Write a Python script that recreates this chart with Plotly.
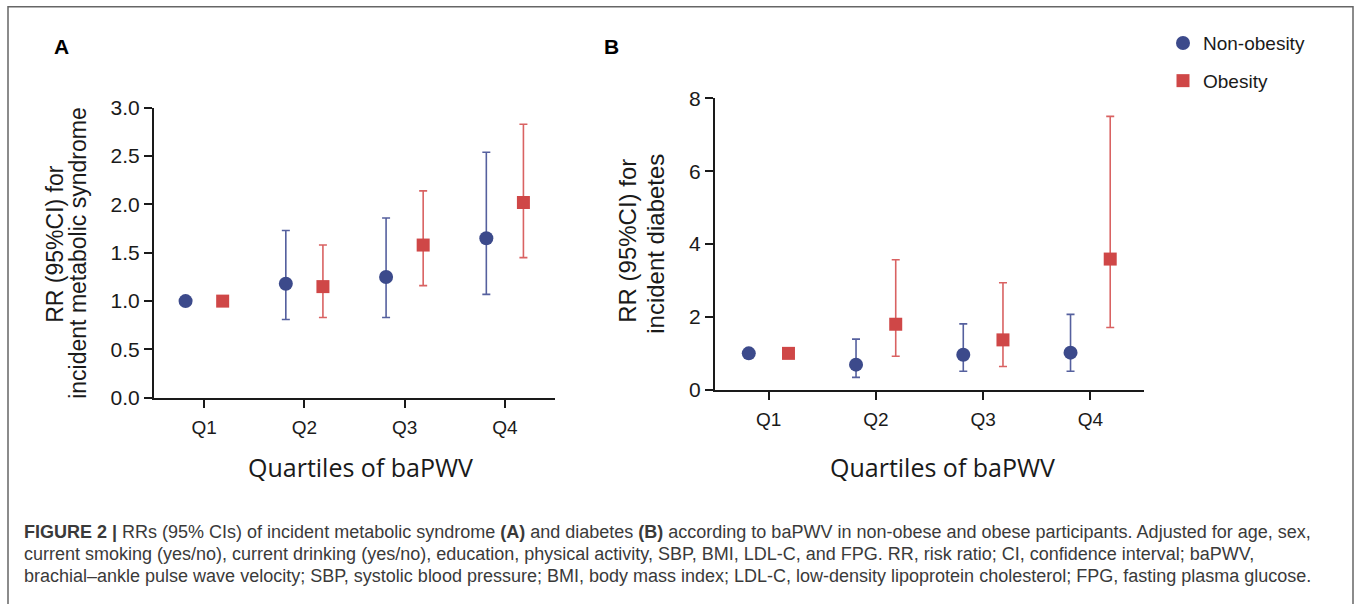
import plotly.graph_objects as go

# ---------------- data ----------------
categories = ["Q1", "Q2", "Q3", "Q4"]
series_names = ["Non-obesity", "Obesity"]

# Panel A: RR (95%CI) for incident metabolic syndrome
a_non_rr = [1.00, 1.18, 1.25, 1.65]
a_non_lo = [1.00, 0.81, 0.83, 1.07]
a_non_hi = [1.00, 1.73, 1.86, 2.54]
a_ob_rr = [1.00, 1.15, 1.58, 2.02]
a_ob_lo = [1.00, 0.83, 1.16, 1.45]
a_ob_hi = [1.00, 1.58, 2.14, 2.83]

# Panel B: RR (95%CI) for incident diabetes
b_non_rr = [1.00, 0.69, 0.96, 1.02]
b_non_lo = [1.00, 0.34, 0.51, 0.51]
b_non_hi = [1.00, 1.39, 1.81, 2.07]
b_ob_rr = [1.00, 1.80, 1.37, 3.59]
b_ob_lo = [1.00, 0.92, 0.64, 1.71]
b_ob_hi = [1.00, 3.57, 2.94, 7.51]

a_yticks = [0.0, 0.5, 1.0, 1.5, 2.0, 2.5, 3.0]
b_yticks = [0, 2, 4, 6, 8]

caption_lines = [
    "<b>FIGURE 2 |</b> RRs (95% CIs) of incident metabolic syndrome <b>(A)</b> and diabetes <b>(B)</b> "
    "according to baPWV in non-obese and obese participants. Adjusted for age, sex,",
    "current smoking (yes/no), current drinking (yes/no), education, physical activity, SBP, BMI, "
    "LDL-C, and FPG. RR, risk ratio; CI, confidence interval; baPWV,",
    "brachial–ankle pulse wave velocity; SBP, systolic blood pressure; BMI, body mass index; "
    "LDL-C, low-density lipoprotein cholesterol; FPG, fasting plasma glucose.",
]

# ---------------- style ----------------
W, H = 1357, 604
BLUE = "#3C4A8B"
BLUE_BAR = "#55609E"
RED = "#CF4747"
RED_BAR = "#D96262"
AXC = "#1a1a1a"
ARIAL = "Arial, Liberation Sans, sans-serif"
OFFSET = 0.185


def px(x):
    return x / W


def py(y):
    # vertical pixel (top-down) -> paper fraction, with a small correction for the
    # vertical scaling observed in the captured page
    yr = (y - 11.2) / 0.962
    return 1 - yr / H


idx = list(range(len(categories)))

fig = go.Figure()


def add_series(rr, lo, hi, shift, color, barcolor, symbol, size, xa, ya, name, show):
    fig.add_trace(go.Scatter(
        x=[i + shift for i in idx], y=rr,
        mode="markers", name=name, legendgroup=name, showlegend=show,
        marker=dict(color=color, symbol=symbol, size=size, line=dict(width=0)),
        error_y=dict(type="data", symmetric=False,
                     array=[h - r for h, r in zip(hi, rr)],
                     arrayminus=[r - l for r, l in zip(rr, lo)],
                     color=barcolor, thickness=1.6, width=4),
        xaxis=xa, yaxis=ya, cliponaxis=False,
    ))


add_series(a_non_rr, a_non_lo, a_non_hi, -OFFSET, BLUE, BLUE_BAR, "circle", 14, "x", "y", series_names[0], False)
add_series(a_ob_rr, a_ob_lo, a_ob_hi, OFFSET, RED, RED_BAR, "square", 13, "x", "y", series_names[1], False)
add_series(b_non_rr, b_non_lo, b_non_hi, -OFFSET, BLUE, BLUE_BAR, "circle", 14, "x2", "y2", series_names[0], True)
add_series(b_ob_rr, b_ob_lo, b_ob_hi, OFFSET, RED, RED_BAR, "square", 13, "x2", "y2", series_names[1], True)

xcommon = dict(range=[-0.5, 3.5], tickvals=idx, ticktext=categories, showgrid=False, zeroline=False,
               showline=True, linecolor=AXC, linewidth=2, ticks="outside", ticklen=8, tickwidth=2,
               tickcolor=AXC, tickfont=dict(family=ARIAL, size=19, color=AXC), fixedrange=True,
               ticklabelstandoff=3)
ycommon = dict(showgrid=False, zeroline=False, showline=True, linecolor=AXC, linewidth=2,
               ticks="outside", ticklen=8, tickwidth=2, tickcolor=AXC,
               tickfont=dict(family=ARIAL, size=21, color=AXC), fixedrange=True)

annotations = [
    dict(text="<b>A</b>", x=px(61), y=py(46), font=dict(family=ARIAL, size=21, color="#000")),
    dict(text="<b>B</b>", x=px(611), y=py(46), font=dict(family=ARIAL, size=21, color="#000")),
    dict(text="RR (95%CI) for", x=px(55), y=py(243), textangle=-90, font=dict(family=ARIAL, size=23, color=AXC)),
    dict(text="incident metabolic syndrome", x=px(78), y=py(253), textangle=-90, font=dict(family=ARIAL, size=23, color=AXC)),
    dict(text="RR (95%CI) for", x=px(628), y=py(240), textangle=-90, font=dict(family=ARIAL, size=24, color=AXC)),
    dict(text="incident diabetes", x=px(656), y=py(243), textangle=-90, font=dict(family=ARIAL, size=24, color=AXC)),
    dict(text="Quartiles of baPWV", x=px(360), y=py(466), font=dict(family="Open Sans, sans-serif", size=25, color=AXC)),
    dict(text="Quartiles of baPWV", x=px(942), y=py(466), font=dict(family="Open Sans, sans-serif", size=25, color=AXC)),
]
for i, (line, yc) in enumerate(zip(caption_lines, [531, 553, 575])):
    annotations.append(dict(text=line, x=px(22), y=py(yc), xanchor="left",
                            font=dict(family=ARIAL, size=18, color="#3a3a3a")))
for a in annotations:
    a.setdefault("xref", "paper")
    a.setdefault("yref", "paper")
    a.setdefault("showarrow", False)
    a.setdefault("xanchor", "center")
    a.setdefault("yanchor", "middle")

ytop = py(6)
ybot = -0.05
frame = dict(type="path", xref="paper", yref="paper", layer="below",
             path=f"M {px(8)},{ybot} L {px(8)},{ytop} L {px(1353)},{ytop} L {px(1353)},{ybot}",
             line=dict(color="#666", width=1.5))

fig.update_layout(
    width=W, height=H, autosize=False,
    margin=dict(l=0, r=0, t=0, b=0),
    paper_bgcolor="white", plot_bgcolor="white",
    xaxis=dict(domain=[px(154), px(555)], anchor="y", **xcommon),
    yaxis=dict(domain=[py(397), py(107)], anchor="x", range=[0, 3], tickvals=a_yticks,
               ticktext=[f"{v:.1f}" for v in a_yticks], **ycommon),
    xaxis2=dict(domain=[px(715), px(1144)], anchor="y2", **xcommon),
    yaxis2=dict(domain=[py(389), py(97.7)], anchor="x2", range=[0, 8], tickvals=b_yticks, **ycommon),
    legend=dict(x=px(1163), y=py(23.3), xanchor="left", yanchor="top", tracegroupgap=10,
                font=dict(family=ARIAL, size=19, color=AXC), bgcolor="rgba(0,0,0,0)"),
    annotations=annotations,
    shapes=[frame],
    showlegend=True,
)

fig.write_html(
    "out.html",
    config={"displayModeBar": False},
    post_script="document.body.style.margin='0';document.body.style.overflow='hidden';",
)
